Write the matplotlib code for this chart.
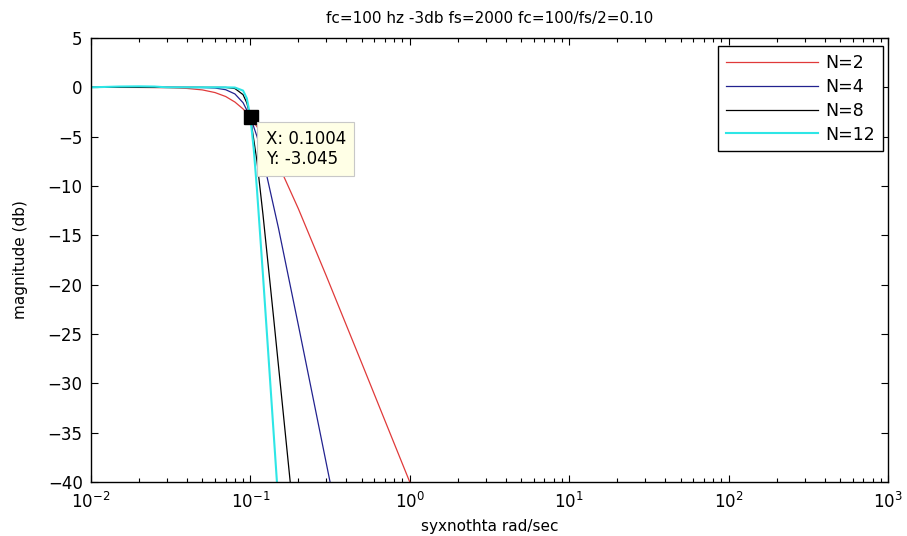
import matplotlib
matplotlib.use("Agg")
import matplotlib.pyplot as plt
import matplotlib.ticker as mticker
from matplotlib.transforms import offset_copy

plt.rcParams['font.family'] = ['DejaVu Sans']

# Frequencies (rad/sec) and magnitudes (dB)
w_n2 = [0.01, 0.02, 0.03, 0.04, 0.05, 0.06, 0.07, 0.08, 0.09, 0.1, 0.12, 0.15, 0.2, 0.3, 0.5, 0.7, 1.0]
m_n2 = [0.0, -0.01, -0.04, -0.11, -0.26, -0.53, -0.93, -1.49, -2.19, -3.01, -4.88, -7.83, -12.3, -19.14, -27.96, -33.81, -40.0]

w_n4 = [0.01, 0.03, 0.05, 0.06, 0.07, 0.08, 0.09, 0.1, 0.11, 0.12, 0.15, 0.2, 0.25, 0.3, 0.32]
m_n4 = [0.0, 0.0, -0.02, -0.07, -0.24, -0.67, -1.56, -3.01, -4.97, -7.24, -14.25, -24.1, -31.84, -38.17, -40.41]

w_n8 = [0.01, 0.03, 0.05, 0.07, 0.08, 0.09, 0.095, 0.1, 0.11, 0.12, 0.14, 0.16, 0.18]
m_n8 = [0.0, 0.0, 0.0, -0.01, -0.12, -0.74, -1.58, -3.01, -7.48, -12.9, -23.4, -32.66, -40.84]

w_n12 = [0.01, 0.015, 0.02, 0.025, 0.03, 0.05, 0.07, 0.08, 0.09, 0.095, 0.1, 0.105, 0.11, 0.12, 0.13, 0.14, 0.15]
m_n12 = [0.0, 0.08, 0.1, 0.08, 0.0, 0.0, 0.0, -0.02, -0.33, -1.11, -3.01, -6.26, -10.35, -19.06, -27.35, -35.07, -42.26]

labels = ['N=2', 'N=4', 'N=8', 'N=12']
colors = ['#e03a3a', '#22228f', '#000000', '#2ee6e6']
widths = [0.9, 0.9, 0.9, 1.5]

tip_x = 0.1004
tip_y = -3.045

title = 'fc=100 hz -3db fs=2000 fc=100/fs/2=0.10'
xlabel = 'syxnothta rad/sec'
ylabel = 'magnitude (db)'

fig = plt.figure(figsize=(9.07, 5.36), dpi=100)
ax = fig.add_axes([0.1003, 0.1007, 0.8787, 0.8284])

series = [(w_n2, m_n2), (w_n4, m_n4), (w_n8, m_n8), (w_n12, m_n12)]
for (w, m), lab, c, lw in zip(series, labels, colors, widths):
    ax.plot(w, m, color=c, lw=lw, label=lab)

ax.set_xscale('log')
ax.set_xlim(1e-2, 1e3)
ax.set_ylim(-40, 5)
ax.set_yticks(range(-40, 6, 5))
ax.xaxis.set_major_locator(mticker.LogLocator(base=10, numticks=10))
ax.xaxis.set_minor_locator(mticker.LogLocator(base=10, subs=range(2, 10), numticks=20))
ax.xaxis.set_minor_formatter(mticker.NullFormatter())

ax.tick_params(which='both', direction='in', top=True, right=True, labelsize=12, colors='black')
ax.tick_params(which='major', length=5, width=0.8)
ax.tick_params(which='minor', length=3, width=0.8)
ax.tick_params(axis='x', which='major', pad=7)
ax.tick_params(axis='y', which='major', pad=6)
for s in ax.spines.values():
    s.set_linewidth(1.0)

ax.set_title(title, fontsize=11, pad=11)
ax.set_xlabel(xlabel, fontsize=11, labelpad=5)
ax.set_ylabel(ylabel, fontsize=11, labelpad=14)

leg = ax.legend(loc='upper right', bbox_to_anchor=(0.9937, 0.982), borderaxespad=0,
                fancybox=False, edgecolor='black', framealpha=1, fontsize=12.5,
                handlelength=5.3, handletextpad=0.45, labelspacing=0.34, borderpad=0.45)
leg.get_frame().set_linewidth(1.0)

# data tip
ax.plot([tip_x], [tip_y], marker='s', color='black', markersize=9.5, zorder=5)
tr = offset_copy(ax.transData, fig=fig, x=15, y=-13, units='dots')
ax.text(tip_x, tip_y, 'X: 0.1004\nY: -3.045', transform=tr, ha='left', va='top',
        fontsize=12, linespacing=1.1, zorder=6,
        bbox=dict(boxstyle='square,pad=0.5', facecolor='#ffffe6', edgecolor='#c8c8c8', lw=0.8))

fig.savefig('out.png', dpi=100)
